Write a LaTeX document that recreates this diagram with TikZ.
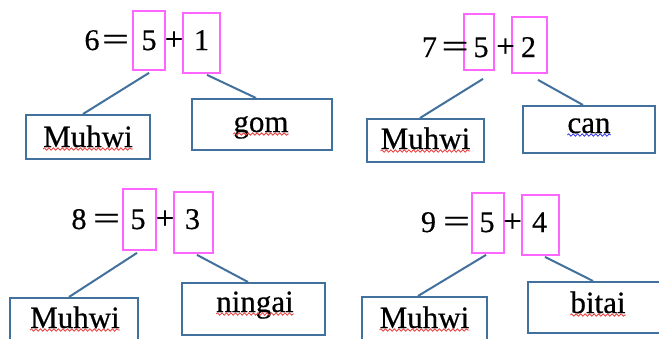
\documentclass[tikz,border=0pt]{standalone}
\usepackage{fontspec}
\setmainfont{Liberation Serif}
\newfontfamily\heavyserif{Liberation Serif}[FakeBold=0.5]
\usetikzlibrary{calc,decorations.pathmorphing}
\definecolor{pinkline}{RGB}{255,102,255}
\definecolor{blueline}{RGB}{65,113,156}
\definecolor{squigred}{RGB}{235,60,60}
\definecolor{squigblue}{RGB}{50,50,235}
\newcommand{\wideeq}{\scalebox{1.45}[1]{=}}
\begin{document}
\begin{tikzpicture}[x=1pt,y=-1pt,
  eq/.style={anchor=base,inner sep=0pt,font=\heavyserif\fontsize{30}{34}\selectfont},
  op/.style={anchor=base,inner sep=0pt,font=\heavyserif\fontsize{33}{37}\selectfont},
  lbl/.style={anchor=base,inner sep=0pt,font=\heavyserif\fontsize{31}{36}\selectfont},
  pinkbox/.style={draw=pinkline,line width=1.8pt,inner sep=0pt},
  wordbox/.style={draw=blueline,line width=2pt,inner sep=0pt},
  link/.style={draw=blueline,line width=2pt},
  squig/.style={draw=#1,line width=0.8pt,decorate,
    decoration={snake,amplitude=1.2pt,segment length=4.5pt}},
]
\clip (0,0) rectangle (659,338);
\fill[white] (0,0) rectangle (659,338);

% ---------- 6 = 5 + 1 ----------
\node[pinkbox,minimum width=32pt,minimum height=59pt] (a5) at (149,40.5) {};
\node[pinkbox,minimum width=37pt,minimum height=60pt] (a1) at (201.5,43) {};
\node[eq] (an) at (92,50) {6};
\node[op] (ae) at (115.5,50) {\wideeq};
\node[eq] (ad5) at (149,50) {5};
\node[op] (ap) at (174,50) {+};
\node[eq] (ad1) at (201.5,50) {1};
\node[wordbox,minimum width=124pt,minimum height=44pt] (am) at (88,137) {};
\node[wordbox,minimum width=140pt,minimum height=51pt] (ag) at (262,124.5) {};
\node[lbl] (tam) at (88,147) {Muhwi};
\node[lbl] (tag) at (261,132) {gom};
\draw[link] ($(a5.south)+(0,2)$) -- ($(am.north)+(-5,0)$);
\draw[link] ($(a1.south)+(5.5,1)$) -- ($(ag.north)+(-6,0)$);
\draw[squig=squigred] ($(tam.base west)+(0,2)$) -- ($(tam.base east)+(0,2)$);
\draw[squig=squigred] ($(tag.base west)+(0,2)$) -- ($(tag.base east)+(0,2)$);

% ---------- 7 = 5 + 2 ----------
\node[pinkbox,minimum width=30pt,minimum height=56pt] (b5) at (479,42) {};
\node[pinkbox,minimum width=35pt,minimum height=56pt] (b2) at (529.5,45) {};
\node[eq] (bn) at (429.5,57) {7};
\node[op] (be) at (455,57) {\wideeq};
\node[eq] (bd5) at (481,57) {5};
\node[op] (bp) at (505.5,57) {+};
\node[eq] (bd2) at (528.5,57) {2};
\node[wordbox,minimum width=117pt,minimum height=43pt] (bm) at (425.5,140.5) {};
\node[wordbox,minimum width=132pt,minimum height=47pt] (bc) at (589,129.5) {};
\node[lbl] (tbm) at (425.5,149) {Muhwi};
\node[lbl] (tbc) at (589,133) {can};
\draw[link] ($(b5.south)+(4,8)$) -- ($(bm.north)+(-5.5,0)$);
\draw[link] ($(b2.south)+(8.5,6)$) -- ($(bc.north)+(-6,0)$);
\draw[squig=squigred] ($(tbm.base west)+(0,2)$) -- ($(tbm.base east)+(0,2)$);
\draw[squig=squigblue] ($(tbc.base west)+(0,2)$) -- ($(tbc.base east)+(0,2)$);

% ---------- 8 = 5 + 3 ----------
\node[pinkbox,minimum width=33pt,minimum height=61pt] (c5) at (139.5,219.5) {};
\node[pinkbox,minimum width=39pt,minimum height=61pt] (c3) at (193.5,222.5) {};
\node[eq] (cn) at (79,229) {8};
\node[op] (ce) at (106.5,229) {\wideeq};
\node[eq] (cd5) at (138,229) {5};
\node[op] (cp) at (165,229) {+};
\node[eq] (cd3) at (192.5,229) {3};
\node[wordbox,minimum width=128pt,minimum height=60pt] (cm) at (74,328) {};
\node[wordbox,minimum width=143pt,minimum height=52pt] (cg) at (253.5,309) {};
\node[lbl] (tcm) at (75,328) {Muhwi};
\node[lbl] (tcg) at (255,312) {ningai};
\draw[link] ($(c5.south)+(-2.5,2)$) -- ($(cm.north)+(-5,0)$);
\draw[link] ($(c3.south)+(3.5,1)$) -- ($(cg.north)+(-5.5,0)$);
\draw[squig=squigred] ($(tcm.base west)+(0,2)$) -- ($(tcm.base east)+(0,2)$);
\draw[squig=squigred] ($(tcg.base west)+(0,2)$) -- ($(tcg.base east)+(0,2)$);

% ---------- 9 = 5 + 4 ----------
\node[pinkbox,minimum width=32pt,minimum height=60pt] (d5) at (488,223) {};
\node[pinkbox,minimum width=37pt,minimum height=60pt] (d4) at (540.5,225) {};
\node[eq] (dn) at (428.5,232) {9};
\node[op] (de) at (456.5,232) {\wideeq};
\node[eq] (dd5) at (487,232) {5};
\node[op] (dp) at (512.5,232) {+};
\node[eq] (dd4) at (539.5,232) {4};
\node[wordbox,minimum width=125pt,minimum height=60pt] (dm) at (424.5,327) {};
\node[wordbox,minimum width=152pt,minimum height=51pt] (dg) at (604,307.5) {};
\node[lbl] (tdm) at (424.5,328) {Muhwi};
\node[lbl] (tdg) at (598,313) {bitai};
\draw[link] ($(d5.south)+(-2,1)$) -- ($(dm.north)+(-6.5,0)$);
\draw[link] ($(d4.south)+(4.5,1)$) -- ($(dg.north)+(-11,0)$);
\draw[squig=squigred] ($(tdm.base west)+(0,2)$) -- ($(tdm.base east)+(0,2)$);
\draw[squig=squigred] ($(tdg.base west)+(0,2)$) -- ($(tdg.base east)+(0,2)$);
\end{tikzpicture}
\end{document}
